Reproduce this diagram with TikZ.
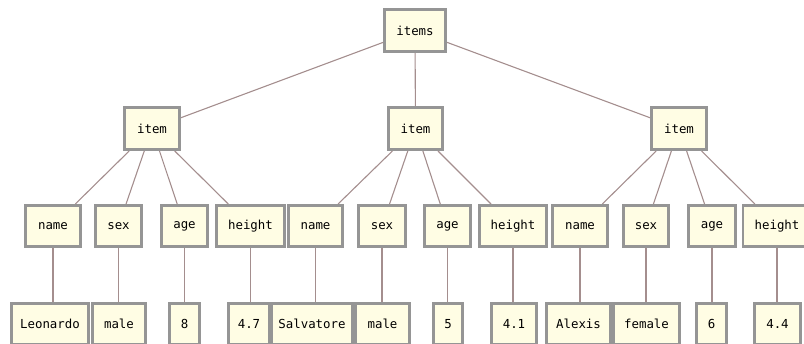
\documentclass[tikz,border=0pt]{standalone}
\usepackage{fontspec}
\newfontfamily\monof{DejaVu Sans Mono}
\usetikzlibrary{backgrounds}
\definecolor{boxfill}{HTML}{FFFDE4}
\definecolor{boxgray}{HTML}{959595}
\definecolor{edgecol}{HTML}{A48E8E}
\tikzset{
  box/.style={draw=boxgray, line width=2.8pt, fill=boxfill, inner sep=0pt,
    font=\monof\fontsize{12.4}{14}\selectfont, anchor=center},
  edge/.style={draw=edgecol, line width=1.1pt}
}
\begin{document}
\begin{tikzpicture}[x=1pt,y=-1pt]
\useasboundingbox (0,0) rectangle (804,344);
\clip (0,0) rectangle (804,344);
% root
\node[box,minimum width=61.2pt,minimum height=42.2pt] (items) at (415,30.5) {items};
% level 2
\node[box,minimum width=55.2pt,minimum height=42.2pt] (it1) at (152,128.5) {item};
\node[box,minimum width=54.2pt,minimum height=42.2pt] (it2) at (415.5,128.5) {item};
\node[box,minimum width=55.2pt,minimum height=42.2pt] (it3) at (679,128.5) {item};
% level 3
\node[box,minimum width=55.2pt,minimum height=41.2pt] (n1) at (53,226) {name};
\node[box,minimum width=46.2pt,minimum height=41.2pt] (s1) at (118.5,226) {sex};
\node[box,minimum width=46.2pt,minimum height=41.2pt] (a1) at (184.5,226) {age};
\node[box,minimum width=68.2pt,minimum height=41.2pt] (h1) at (250.5,226) {height};
\node[box,minimum width=54.2pt,minimum height=41.2pt] (n2) at (315.5,226) {name};
\node[box,minimum width=47.2pt,minimum height=41.2pt] (s2) at (382,226) {sex};
\node[box,minimum width=46.2pt,minimum height=41.2pt] (a2) at (447.5,226) {age};
\node[box,minimum width=67.2pt,minimum height=41.2pt] (h2) at (513,226) {height};
\node[box,minimum width=55.2pt,minimum height=41.2pt] (n3) at (580,226) {name};
\node[box,minimum width=45.2pt,minimum height=41.2pt] (s3) at (646,226) {sex};
\node[box,minimum width=47.2pt,minimum height=41.2pt] (a3) at (712,226) {age};
\node[box,minimum width=68.2pt,minimum height=41.2pt] (h3) at (777,226) {height};
% leaves
\node[box,minimum width=77.2pt,minimum height=41.2pt] (l1) at (50,324) {Leonardo};
\node[box,minimum width=53.2pt,minimum height=41.2pt] (l2) at (119,324) {male};
\node[box,minimum width=30.2pt,minimum height=41.2pt] (l3) at (184.5,324) {8};
\node[box,minimum width=41.2pt,minimum height=41.2pt] (l4) at (249,324) {4.7};
\node[box,minimum width=81.2pt,minimum height=41.2pt] (l5) at (312,324) {Salvatore};
\node[box,minimum width=54.2pt,minimum height=41.2pt] (l6) at (382.5,324) {male};
\node[box,minimum width=29.2pt,minimum height=41.2pt] (l7) at (448,324) {5};
\node[box,minimum width=45.2pt,minimum height=41.2pt] (l8) at (514,324) {4.1};
\node[box,minimum width=64.2pt,minimum height=41.2pt] (l9) at (578.5,324) {Alexis};
\node[box,minimum width=66.2pt,minimum height=41.2pt] (l10) at (646.5,324) {female};
\node[box,minimum width=30.2pt,minimum height=41.2pt] (l11) at (711.5,324) {6};
\node[box,minimum width=46.2pt,minimum height=41.2pt] (l12) at (777.5,324) {4.4};
\begin{pgfonlayer}{background}
  \draw[edge] (items) -- (it1);
  \draw[edge] (items) -- (it2);
  \draw[edge] (items) -- (it3);
  \foreach \p/\c in {it1/n1,it1/s1,it1/a1,it1/h1,it2/n2,it2/s2,it2/a2,it2/h2,it3/n3,it3/s3,it3/a3,it3/h3}
    \draw[edge] (\p) -- (\c);
  \foreach \p/\c in {n1/l1,s1/l2,a1/l3,h1/l4,n2/l5,s2/l6,a2/l7,h2/l8,n3/l9,s3/l10,a3/l11,h3/l12}
    \draw[edge] (\p.south) -- (\p.south |- \c.north);
\end{pgfonlayer}
\end{tikzpicture}
\end{document}
